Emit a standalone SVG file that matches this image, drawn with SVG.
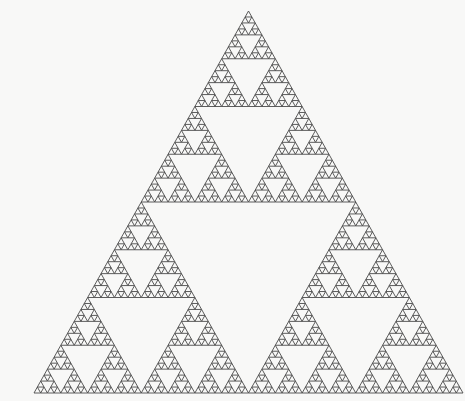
<svg xmlns="http://www.w3.org/2000/svg" xmlns:xlink="http://www.w3.org/1999/xlink" width="465" height="401" viewBox="0 0 465 401">
<style>
.tri{fill:none;stroke:#4a4a4a;stroke-width:0.9;vector-effect:non-scaling-stroke;stroke-linejoin:miter}
</style>
<defs>
<path id="t0" class="tri" vector-effect="non-scaling-stroke" d="M0.5 0 L1 1 L0 1 Z"/>
<g id="t1"><use href="#t0" transform="translate(0.25 0) scale(0.5)"/><use href="#t0" transform="translate(0 0.5) scale(0.5)"/><use href="#t0" transform="translate(0.5 0.5) scale(0.5)"/></g>
<g id="t2"><use href="#t1" transform="translate(0.25 0) scale(0.5)"/><use href="#t1" transform="translate(0 0.5) scale(0.5)"/><use href="#t1" transform="translate(0.5 0.5) scale(0.5)"/></g>
<g id="t3"><use href="#t2" transform="translate(0.25 0) scale(0.5)"/><use href="#t2" transform="translate(0 0.5) scale(0.5)"/><use href="#t2" transform="translate(0.5 0.5) scale(0.5)"/></g>
<g id="t4"><use href="#t3" transform="translate(0.25 0) scale(0.5)"/><use href="#t3" transform="translate(0 0.5) scale(0.5)"/><use href="#t3" transform="translate(0.5 0.5) scale(0.5)"/></g>
<g id="t5"><use href="#t4" transform="translate(0.25 0) scale(0.5)"/><use href="#t4" transform="translate(0 0.5) scale(0.5)"/><use href="#t4" transform="translate(0.5 0.5) scale(0.5)"/></g>
<g id="t6"><use href="#t5" transform="translate(0.25 0) scale(0.5)"/><use href="#t5" transform="translate(0 0.5) scale(0.5)"/><use href="#t5" transform="translate(0.5 0.5) scale(0.5)"/></g>
</defs>
<rect width="465" height="401" fill="#f8f8f7"/>
<g id="sierpinski" transform="translate(34 11) scale(429 382)">
<use href="#t6"/>
</g>
</svg>
